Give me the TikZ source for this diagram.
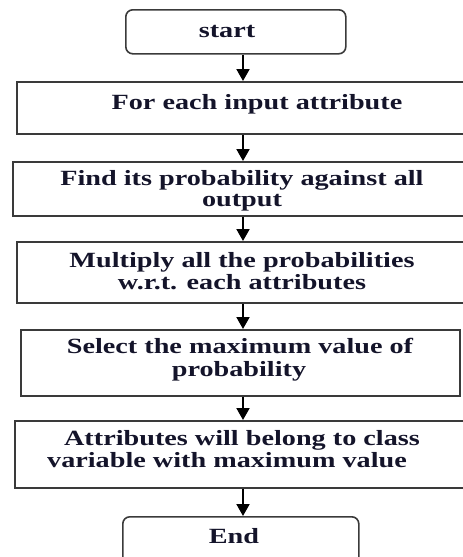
\documentclass[tikz,border=0pt]{standalone}
\usepackage{fontspec}
\newfontfamily\flowfont[FakeStretch=1.30]{Liberation Serif}
\usetikzlibrary{arrows.meta}
\definecolor{boxline}{HTML}{3A3A3A}
\definecolor{txt}{HTML}{14142A}
\tikzset{
  procbox/.style={draw=boxline, line width=1.6pt, rectangle, inner sep=0pt, anchor=north west},
  termbox/.style={draw=boxline, line width=1.6pt, rectangle, rounded corners=7pt, inner sep=0pt, anchor=north west},
  lbl/.style={anchor=base, inner sep=0pt, text=txt, font=\flowfont\bfseries\fontsize{21.7}{22}\selectfont},
  flowarrow/.style={draw=black, line width=2pt, -{Triangle[length=12pt,width=13pt]}}
}
\begin{document}
\begin{tikzpicture}[x=1pt,y=-1pt]
\useasboundingbox (0,0) rectangle (463,557);
\clip (0,0) rectangle (463,557);
\coordinate (ax) at (243,0);
% boxes
\node[termbox, minimum width=220pt, minimum height=44pt] (start) at (125,9) {};
\node[procbox, minimum width=454pt, minimum height=52pt] (b1) at (16,81) {};
\node[procbox, minimum width=458pt, minimum height=54pt] (b2) at (12,161) {};
\node[procbox, minimum width=454pt, minimum height=61pt] (b3) at (16,241) {};
\node[procbox, minimum width=439pt, minimum height=66pt] (b4) at (20,329) {};
\node[procbox, minimum width=456pt, minimum height=67pt] (b5) at (14,420) {};
\node[termbox, minimum width=236pt, minimum height=60pt] (end) at (122,516) {};
% texts
\node[lbl] (tstart) at (227,37) {start};
\node[lbl] (t1) at (257,109) {For each input attribute};
\node[lbl] (t2a) at (242,185) {Find its probability against all};
\node[lbl] (t2b) at (242,206) {output};
\node[lbl] (t3a) at (242,267) {Multiply all the probabilities};
\node[lbl] (t3b) at (242,289) {w.r.t. each attributes};
\node[lbl] (t4a) at (240,353) {Select the maximum value of};
\node[lbl] (t4b) at (239,376) {probability};
\node[lbl] (t5a) at (242,445) {Attributes will belong to class};
\node[lbl] (t5b) at (227,467) {variable with maximum value};
\node[lbl] (tend) at (234,543) {End};
% arrows
\draw[flowarrow] (start.south -| ax) -- (b1.north -| ax);
\draw[flowarrow] (b1.south -| ax) -- (b2.north -| ax);
\draw[flowarrow] (b2.south -| ax) -- (b3.north -| ax);
\draw[flowarrow] (b3.south -| ax) -- (b4.north -| ax);
\draw[flowarrow] (b4.south -| ax) -- (b5.north -| ax);
\draw[flowarrow] (b5.south -| ax) -- (end.north -| ax);
\end{tikzpicture}
\end{document}
